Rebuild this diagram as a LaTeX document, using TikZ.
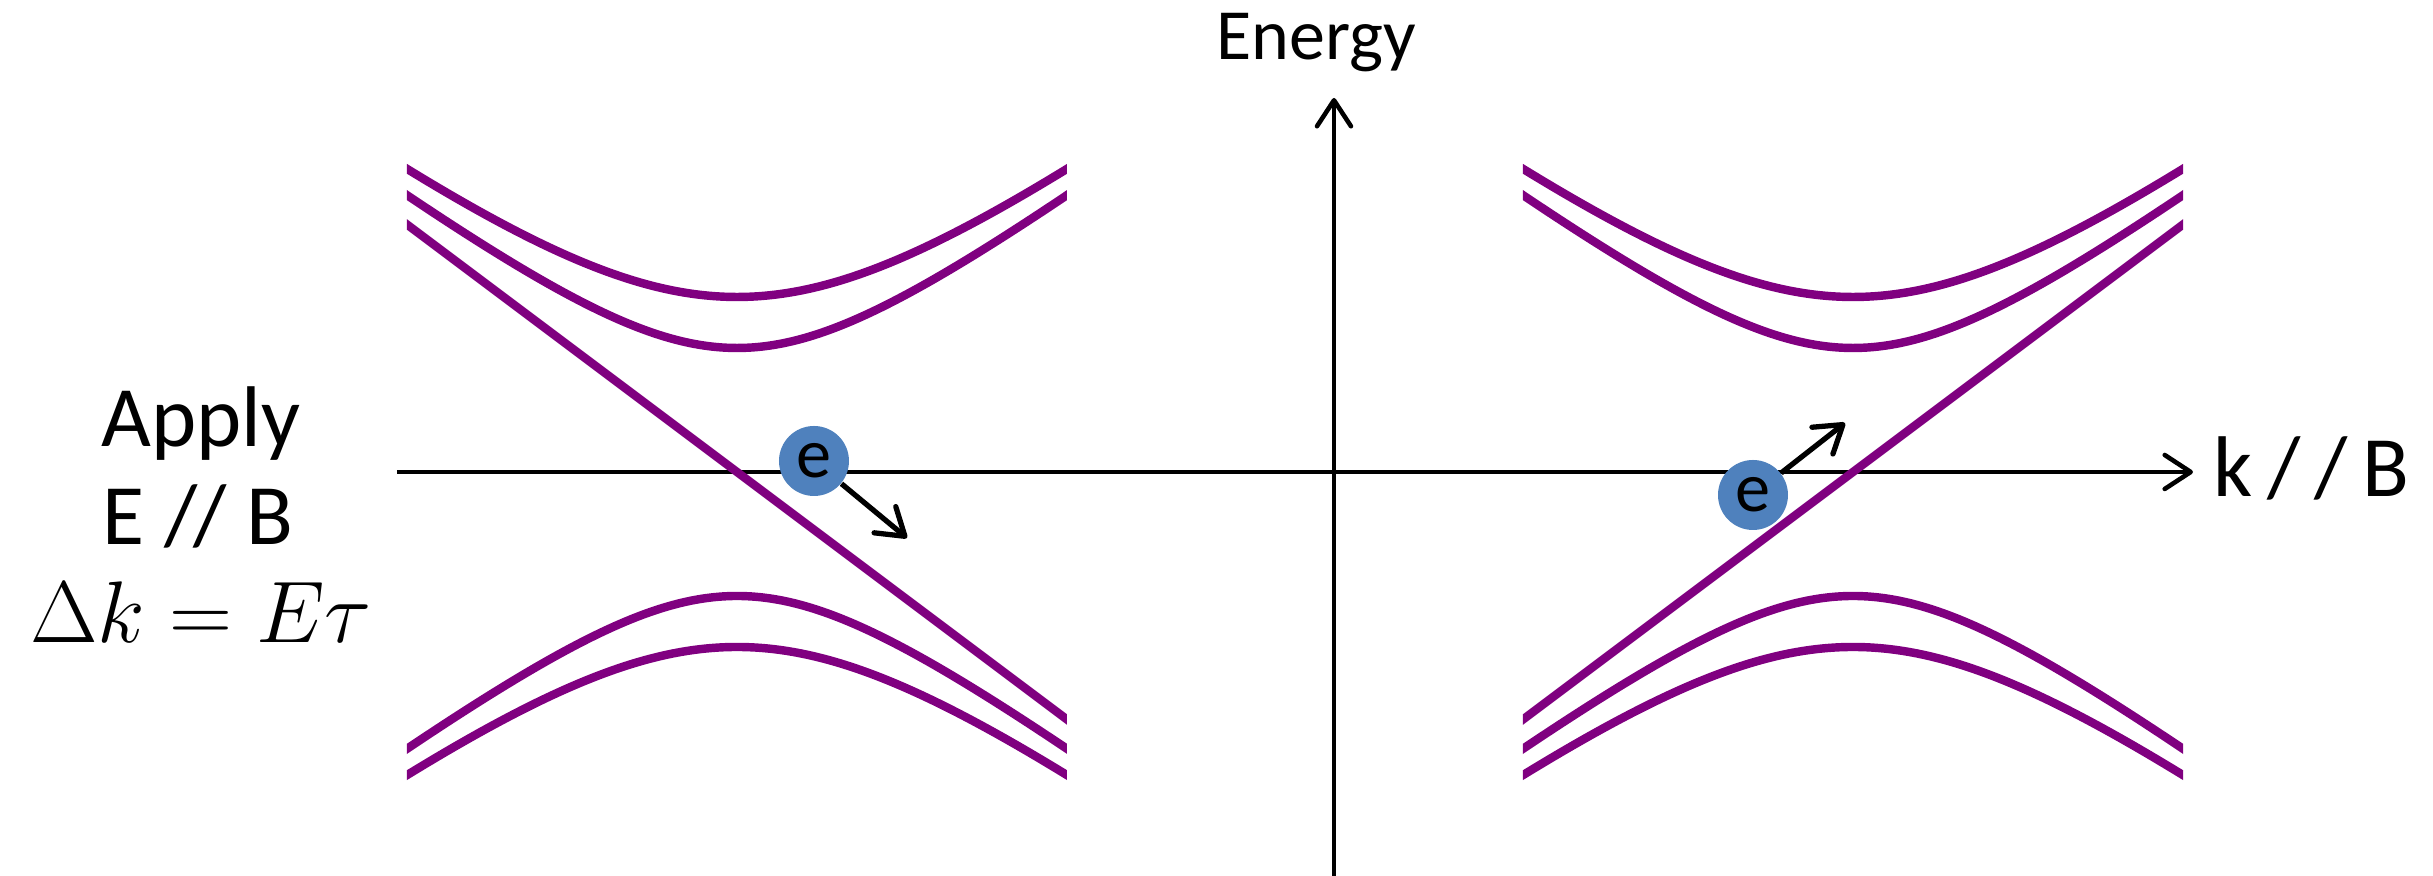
\documentclass[tikz,border=0pt]{standalone}
\usepackage{fontspec}
\setmainfont{Carlito}
\usetikzlibrary{arrows.meta,positioning}
\definecolor{bandpurple}{HTML}{800080}
\definecolor{ballblue}{HTML}{4F81BD}

\begin{document}
\begin{tikzpicture}[
  >={Straight Barb[length=2.6mm,width=3.4mm,round]},
  axis/.style={line width=1.3pt, ->},
  band/.style={bandpurple, line width=2.4pt},
  electron/.style={circle, fill=ballblue, minimum size=7mm, inner sep=0pt,
                   font=\fontsize{20}{24}\selectfont},
  push/.style={line width=1.5pt, ->},
  lbl/.style={inner sep=0pt, font=\fontsize{24.5}{30}\selectfont}
]
  \useasboundingbox (-13.34,-4.04) rectangle (10.99,4.72);

  % axes
  \coordinate (kstart) at (-9.37,0);
  \coordinate (kend) at (8.59,0);
  \coordinate (ebottom) at (0,-4.1);
  \coordinate (etop) at (0,3.74);
  \draw[axis] (kstart) -- (kend);
  \draw[axis] (ebottom) -- (etop);
  \node[inner sep=0pt, font=\fontsize{20.5}{24}\selectfont, anchor=base] (energy) at (-0.18,4.12) {Energy};
  \node[lbl, anchor=base west] (kpar) at (8.79,-0.25) {k\,/\,/\kern4pt B};

  % bands of the two cones
  \foreach \cx/\s in {-5.97/-1, 5.19/1} {
    \begin{scope}
      \clip ({\cx-3.3},-4) rectangle ({\cx+3.3},4);
      \foreach \m in {1.75,1.24} {
        \draw[band] plot[domain=-3.4:3.4, samples=70, smooth] ({\cx+\x},{sqrt(\m*\m+0.5625*\x*\x)});
        \draw[band] plot[domain=-3.4:3.4, samples=70, smooth] ({\cx+\x},{-sqrt(\m*\m+0.5625*\x*\x)});
      }
      \draw[band] ({\cx-3.4},{-\s*2.55}) -- ({\cx+3.4},{\s*2.55});
    \end{scope}
  }

  % electrons
  \node[electron] (eleft) at (-5.20,0.11) {e};
  \coordinate (elefttip) at (-4.27,-0.66);
  \draw[push] (eleft) -- (elefttip);
  \node[electron] (eright) at (4.19,-0.23) {e};
  \coordinate (erighttip) at (5.11,0.49);
  \draw[push] (eright) -- (erighttip);

  % field note
  \node[lbl, anchor=base] (apply) at (-11.33,0.25) {Apply};
  \node[lbl, anchor=base] (epar) at (-11.36,-0.73) {E /\kern-1pt/ B};
  \node[inner sep=0pt, font=\fontsize{31}{34}\selectfont, anchor=base] (shift) at (-11.33,-1.71) {$\Delta k = E\tau$};
\end{tikzpicture}
\end{document}
